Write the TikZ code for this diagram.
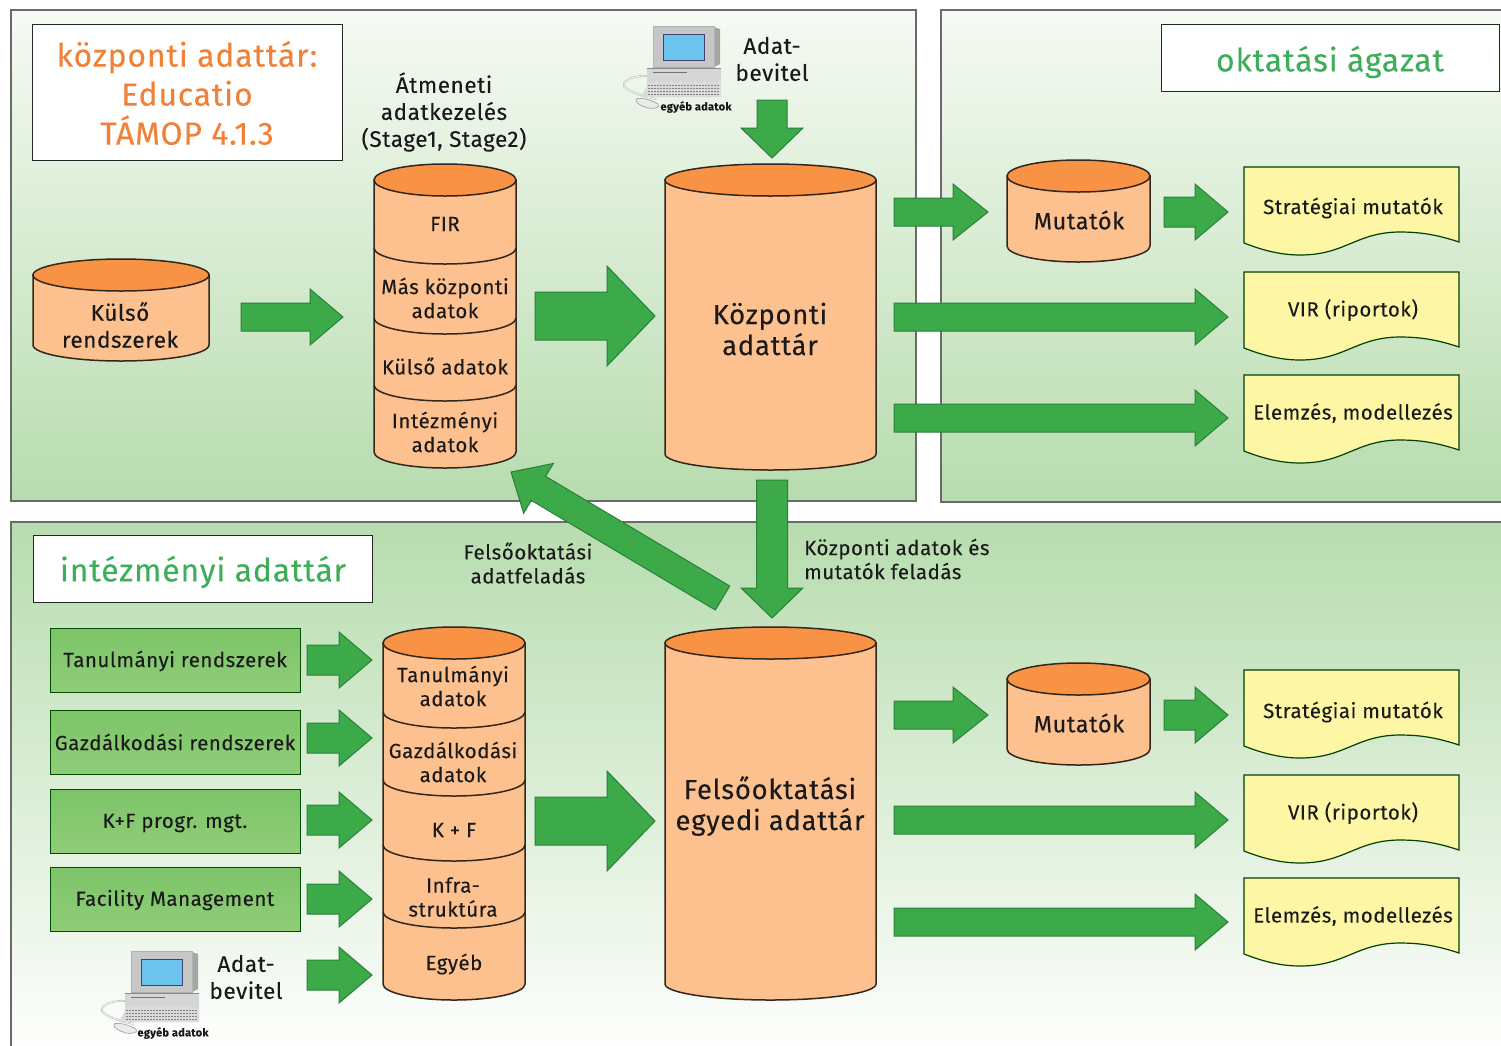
\documentclass[tikz,border=0pt]{standalone}
\usepackage{fontspec}
\setmainfont{Fira Sans}[LetterSpace=2.5,FakeBold=0.1]
\usetikzlibrary{calc}
\definecolor{arrowgreen}{HTML}{3CAA48}
\definecolor{arrowedge}{HTML}{2B7F3B}
\definecolor{cylbody}{HTML}{FDC08F}
\definecolor{cyltop}{HTML}{F89345}
\definecolor{cyledge}{HTML}{33261A}
\definecolor{panelgreen}{HTML}{B7DCAE}
\definecolor{panelwhite}{HTML}{F6FAF4}
\definecolor{paneledge}{HTML}{6A6A6A}
\definecolor{docfill}{HTML}{FDF6A4}
\definecolor{titleorange}{HTML}{EF8238}
\definecolor{titlegreen}{HTML}{3FAE5A}
\definecolor{boxtop}{HTML}{7CC468}
\definecolor{boxbot}{HTML}{90CD78}
\definecolor{screenblue}{HTML}{6CC3EE}
\definecolor{txt}{HTML}{1A1A1A}
\tikzset{
  panelup/.style={draw=paneledge,line width=2.6pt,top color=panelwhite,bottom color=panelgreen},
  paneldown/.style={draw=paneledge,line width=2.6pt,top color=panelgreen,bottom color=white},
  titlebox/.style={draw=black!85,line width=1.2pt,fill=white},
  sysbox/.style={draw=black!70!green,line width=1.4pt,top color=boxtop,bottom color=boxbot},
  blockarrow/.style={draw=arrowedge,line width=1pt,fill=arrowgreen,line join=miter},
  cylb/.style={draw=cyledge,line width=1.5pt,fill=cylbody},
  cylt/.style={draw=cyledge,line width=1.5pt,fill=cyltop},
  cyld/.style={draw=cyledge,line width=1.5pt},
  docshape/.style={draw=black!75!green,line width=1.2pt,fill=docfill},
  lab/.style={text=txt,align=center,inner sep=0pt},
  lS/.style={lab,font=\fontsize{20.5}{24}\selectfont},
  lM/.style={lab,font=\fontsize{22.5}{27}\selectfont},
  lU/.style={lab,font=\fontsize{23.5}{27}\selectfont},
  lL/.style={lab,font=\fontsize{27.5}{31}\selectfont},
  lN/.style={lab,font=\fontsize{20.5}{24}\selectfont},
  lT/.style={align=center,inner sep=0pt,font=\fontsize{32}{39}\selectfont},
  computer/.pic={
    % cable
    \draw[white!70!black,line width=1.8pt] (3,73) .. controls (-12,70) and (-26,65) .. (-29,60) .. controls (-31,53) and (-15,49) .. (-6,50);
    \draw[white,line width=.8pt] (3,73) .. controls (-12,70) and (-26,65) .. (-29,60) .. controls (-31,53) and (-15,49) .. (-6,50);
    % base unit
    \fill[black!16] (-6,42) -- (68,42) -- (68,60) -- (-6,60) -- cycle;
    \draw[black!45,line width=.6pt] (-6,42) -- (68,42);
    \draw[black!55,line width=1pt] (0,46) -- (34,46);
    % keyboard
    \fill[black!14] (-4,56) -- (68,56) -- (68,71) -- (-12,71) -- cycle;
    \foreach \k in {59,62,65,68} \draw[black!50,line width=1pt,dash pattern=on 2pt off 1pt] (-5,\k) -- (66,\k);
    % monitor
    \fill[black!35] (61,1) -- (67,3) -- (67,38) -- (61,41) -- cycle;
    \draw[black!30,line width=.6pt,fill=black!22] (0,0) rectangle (61,41);
    \fill[black!32] (0,41) -- (61,41) -- (61,42) -- (0,42) -- cycle;
    \draw[black!60!blue!50!gray,line width=1pt,fill=screenblue] (10,8) rectangle (51,34);
    % mouse
    \draw[black!40,line width=.6pt,fill=black!8] (-17,73) .. controls (-12,71) and (-2,74) .. (5,78) .. controls (8,82) and (0,83) .. (-5,82) .. controls (-12,80) and (-18,77) .. (-17,73) -- cycle;
  }
}
\newcommand{\garrow}[5]{%
  \coordinate (hb) at ($(#2)!#5pt!(#1)$);
  \draw[blockarrow] ($(#1)!#3pt!90:(#2)$) -- ($(hb)!#3pt!90:(#2)$) -- ($(hb)!#4pt!90:(#2)$) -- (#2)
    -- ($(hb)!#4pt!-90:(#2)$) -- ($(hb)!#3pt!-90:(#2)$) -- ($(#1)!#3pt!-90:(#2)$) -- cycle;
}
% name, x1, x2, ytop, ybottom, divider list
\newcommand{\cyl}[6]{%
  \pgfmathsetmacro{\rx}{(#3-#2)/2}
  \pgfmathsetmacro{\cx}{(#3+#2)/2}
  \draw[cylb] (#2,#4) -- (#2,#5) arc[start angle=180,end angle=360,x radius=\rx pt,y radius=16pt] -- (#3,#4) -- cycle;
  \foreach \d in {#6} {\draw[cyld] (#2,\d) arc[start angle=180,end angle=360,x radius=\rx pt,y radius=16pt];}
  \draw[cylt] (\cx,#4) ellipse[x radius=\rx pt,y radius=16pt];
  \coordinate (#1) at (\cx,#4);
}
\newcommand{\docbox}[4]{%
  \draw[docshape] (1244,#1) -- (1459,#1) -- (1459,#1+75) .. controls (1432,#1+66) and (1415,#1+65) .. (1398,#1+65)
    .. controls (1355,#1+66) and (1345,#1+88) .. (1300,#1+88) .. controls (1280,#1+88) and (1262,#1+83) .. (1244,#1+76) -- cycle;
  \node[lS] (#2) at (1353,#4) {#3};
}
\begin{document}
\begin{tikzpicture}[x=1pt,y=-1pt]
\clip (0,0) rectangle (1501,1045);
% panels
\draw[panelup] (11,10) rectangle (916,501);
\draw[panelup] (941,10) rectangle (1520,502);
\draw[paneldown] (11,522) rectangle (1520,1060);
% titles
\node[titlebox,minimum width=310pt,minimum height=136pt,anchor=north west] (t1) at (32,24) {};
\node[lT,text=titleorange] (t1l) at (187,93) {központi adattár:\\Educatio\\TÁMOP 4.1.3};
\node[titlebox,minimum width=338pt,minimum height=67pt,anchor=north west] (t2) at (1161,24) {};
\node[lT,text=titlegreen] (t2l) at (1330,62) {oktatási ágazat};
\node[titlebox,minimum width=339pt,minimum height=67pt,anchor=north west] (t3) at (33,535) {};
\node[lT,text=titlegreen] (t3l) at (203,572) {intézményi adattár};
% cylinders
\cyl{ck}{33}{209}{275}{345}{}
\node[lM] (ckl) at (120,325) {Külső\\rendszerek};
\cyl{cs}{374}{516}{180}{452}{248,318,385}
\node[lS] (cs1) at (445,224) {FIR};
\node[lS] (cs2) at (445,298) {Más központi\\adatok};
\node[lS] (cs3) at (445,366) {Külső adatok};
\node[lS] (cs4) at (445,432) {Intézményi\\adatok};
\cyl{cc}{665}{876}{180}{454}{}
\node[lL] (ccl) at (770,329) {Központi\\adattár};
\cyl{cm}{1007}{1150}{176}{246}{}
\node[lU] (cml) at (1079,220) {Mutatók};
\cyl{ds}{383}{525}{643}{984}{712,780,845,912}
\node[lS] (ds1) at (453,686) {Tanulmányi\\adatok};
\node[lS] (ds2) at (453,762) {Gazdálkodási\\adatok};
\node[lS] (ds3) at (454,830) {K + F};
\node[lS] (ds4) at (453,897) {Infra-\\struktúra};
\node[lS] (ds5) at (454,964) {Egyéb};
\cyl{dc}{665}{876}{643}{984}{}
\node[lL] (dcl) at (770,806) {Felsőoktatási\\egyedi adattár};
\cyl{dm}{1007}{1150}{679}{749}{}
\node[lU] (dml) at (1079,723) {Mutatók};
% documents
\docbox{167}{d1}{Stratégiai mutatók}{208}
\docbox{272}{d2}{VIR (riportok)}{310}
\docbox{375}{d3}{Elemzés, modellezés}{413}
\docbox{670}{d4}{Stratégiai mutatók}{712}
\docbox{775}{d5}{VIR (riportok)}{813}
\docbox{878}{d6}{Elemzés, modellezés}{916}
% system boxes
\node[sysbox,minimum width=250pt,minimum height=64pt,anchor=north west] (b1) at (50,628) {};
\node[lN] (b1l) at (175,661) {Tanulmányi rendszerek};
\node[sysbox,minimum width=250pt,minimum height=64pt,anchor=north west] (b2) at (50,710) {};
\node[lN] (b2l) at (175,742) {Gazdálkodási rendszerek};
\node[sysbox,minimum width=250pt,minimum height=64pt,anchor=north west] (b3) at (50,789) {};
\node[lN] (b3l) at (175,823) {K+F progr. mgt.};
\node[sysbox,minimum width=250pt,minimum height=64pt,anchor=north west] (b4) at (50,867) {};
\node[lN] (b4l) at (175,900) {Facility Management};
% computers
\pic at (653,26) {computer};
\node[lab,font=\fontsize{11}{13}\selectfont\bfseries] (e1) at (696,107) {egyéb adatok};
\node[lM] (ab1) at (772,59) {Adat-\\bevitel};
\pic at (131,951) {computer};
\node[lab,font=\fontsize{11}{13}\selectfont\bfseries] (e2) at (173,1033) {egyéb adatok};
\node[lM] (ab2) at (246,977) {Adat-\\bevitel};
% other labels
\node[lM] (at) at (444,112) {Átmeneti\\adatkezelés\\(Stage1, Stage2)};
\node[lN] (fa) at (528,563) {Felsőoktatási\\adatfeladás};
\node[lN,align=left,anchor=west] (ka) at (804,559) {Központi adatok és\\mutatók feladás};
% connector ends
\foreach \n/\x/\y in {
 a1/241/317,a2/343/317,a3/535/316,a4/655/316,a5/772/100,a6/772/158,
 a7/894/212,a8/988/212,a9/1164/212,a10/1228/212,a11/894/317,a12/1228/317,a13/894/418,a14/1228/418,
 a15/772/480,a16/772/618,a17/722.5/598,a18/511/472,
 b1s/307/660,b1e/372/660,b2s/307/738,b2e/372/738,b3s/307/820,b3e/372/820,b4s/307/899,b4e/372/899,b5s/307/975,b5e/372/975,
 a19/535/821,a20/655/821,a21/894/715,a22/988/715,a23/1164/715,a24/1228/715,a25/894/820,a26/1228/820,a27/894/922,a28/1228/922}
 {\coordinate (\n) at (\x,\y);}
\garrow{a1}{a2}{14}{28}{33}
\garrow{a3}{a4}{24}{50}{48}
\garrow{a5}{a6}{15}{31}{30}
\garrow{a7}{a8}{14}{28}{35}
\garrow{a9}{a10}{15}{28}{33}
\garrow{a11}{a12}{14}{28}{33}
\garrow{a13}{a14}{14}{28}{33}
\garrow{a15}{a16}{15.5}{31}{30}
\garrow{a17}{a18}{14}{29}{32}
\garrow{b1s}{b1e}{15}{28}{33}
\garrow{b2s}{b2e}{15}{28}{33}
\garrow{b3s}{b3e}{15}{28}{33}
\garrow{b4s}{b4e}{15}{28}{33}
\garrow{b5s}{b5e}{15}{28}{33}
\garrow{a19}{a20}{24}{50}{48}
\garrow{a21}{a22}{14}{28}{35}
\garrow{a23}{a24}{15}{28}{33}
\garrow{a25}{a26}{14}{28}{33}
\garrow{a27}{a28}{14}{28}{33}
\end{tikzpicture}
\end{document}
